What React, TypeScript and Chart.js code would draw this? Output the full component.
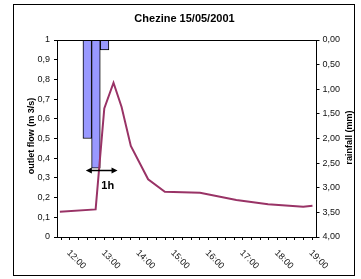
import { useEffect, useRef } from 'react';
import { Chart, registerables } from 'chart.js';

Chart.register(...registerables);

const chartTitle = 'Chezine 15/05/2001';
const flowAxisTitle = 'outlet flow (m 3/s)';
const rainAxisTitle = 'rainfall (mm)';

// outlet flow (m3/s)
const flowTimes = ['11:35', '12:37', '12:52', '13:08', '13:22', '13:38', '14:08', '14:37', '15:38', '16:41', '17:36', '18:37', '18:53'];
const flowValues = [0.128, 0.14, 0.653, 0.783, 0.66, 0.462, 0.293, 0.23, 0.225, 0.188, 0.166, 0.154, 0.159];

// rainfall (mm) per 15-minute interval, start of interval
const rainTimes = ['12:15', '12:30', '12:45'];
const rainValues = [2.0, 2.6, 0.2];

const hourLabels = ['12:00', '13:00', '14:00', '15:00', '16:00', '17:00', '18:00', '19:00'];

// "1h" annotation (data units)
const arrowFrom = '12:20';
const arrowTo = '13:15';
const arrowLevel = 0.34;
const arrowText = '1h';
const arrowTextTime = '12:58';
const arrowTextLevel = 0.259;

const toHours = (t: string) => {
  const [h, m] = t.split(':').map(Number);
  return h + m / 60;
};

const FONT = "'Liberation Sans', Arial, sans-serif";

const decorPlugin = {
  id: 'decor',
  afterDraw(chart: any) {
    const { ctx, chartArea, scales } = chart;
    const xs = scales.x;
    const ys = scales.flow;
    ctx.save();
    // outer frame
    ctx.strokeStyle = '#000';
    ctx.lineWidth = 1;
    ctx.strokeRect(13.5, 4.5, 341, 271);
    // top border of plot area
    ctx.beginPath();
    ctx.moveTo(chartArea.left, Math.round(chartArea.top) + 0.5);
    ctx.lineTo(chartArea.right, Math.round(chartArea.top) + 0.5);
    ctx.stroke();
    // title
    ctx.fillStyle = '#000';
    ctx.font = `bold 11px ${FONT}`;
    ctx.textAlign = 'center';
    ctx.textBaseline = 'middle';
    ctx.fillText(chartTitle, 184.5, 19);
    // x labels, rotated down-right
    ctx.font = `9px ${FONT}`;
    ctx.fillStyle = '#111';
    hourLabels.forEach((lab) => {
      const x = xs.getPixelForValue(toHours(lab)) + 2;
      const y = chartArea.bottom + 22.5;
      ctx.save();
      ctx.translate(x, y);
      ctx.rotate(Math.PI / 4);
      ctx.fillText(lab, 0, 0);
      ctx.restore();
    });
    // axis titles
    ctx.fillStyle = '#000';
    ctx.font = `bold 9px ${FONT}`;
    ctx.save();
    ctx.translate(31.5, 136);
    ctx.rotate(-Math.PI / 2);
    ctx.fillText(flowAxisTitle, 0, 0);
    ctx.restore();
    ctx.save();
    ctx.translate(349.5, 137.5);
    ctx.rotate(-Math.PI / 2);
    ctx.fillText(rainAxisTitle, 0, 0);
    ctx.restore();
    // double arrow
    const x1 = xs.getPixelForValue(toHours(arrowFrom));
    const x2 = xs.getPixelForValue(toHours(arrowTo));
    const ay = Math.round(ys.getPixelForValue(arrowLevel)) + 0.5;
    ctx.strokeStyle = '#000';
    ctx.lineWidth = 1.5;
    ctx.beginPath();
    ctx.moveTo(x1 + 3, ay);
    ctx.lineTo(x2 - 3, ay);
    ctx.stroke();
    ctx.beginPath();
    ctx.moveTo(x1, ay);
    ctx.lineTo(x1 + 6, ay - 3);
    ctx.lineTo(x1 + 6, ay + 3);
    ctx.closePath();
    ctx.moveTo(x2, ay);
    ctx.lineTo(x2 - 6, ay - 3);
    ctx.lineTo(x2 - 6, ay + 3);
    ctx.closePath();
    ctx.fill();
    ctx.font = `bold 11px ${FONT}`;
    ctx.fillText(arrowText, xs.getPixelForValue(toHours(arrowTextTime)), ys.getPixelForValue(arrowTextLevel));
    ctx.restore();
  },
};

export default function App() {
  const ref = useRef<HTMLCanvasElement>(null);
  useEffect(() => {
    if (!ref.current) return;
    const tickFont = { family: FONT, size: 9 };
    const chart = new Chart(ref.current, {
      type: 'bar',
      data: {
        datasets: [
          {
            type: 'line',
            label: 'outlet flow',
            data: flowTimes.map((t, i) => ({ x: toHours(t), y: flowValues[i] })),
            yAxisID: 'flow',
            borderColor: '#993366',
            borderWidth: 2,
            pointRadius: 0,
            tension: 0,
            order: 1,
          } as any,
          {
            type: 'bar',
            label: 'rainfall',
            data: rainTimes.map((t, i) => ({ x: toHours(t) + 0.125, y: rainValues[i] })),
            yAxisID: 'rain',
            backgroundColor: '#9999FF',
            borderColor: '#000',
            borderWidth: 1,
            barPercentage: 1,
            categoryPercentage: 1,
            order: 2,
          } as any,
        ],
      },
      options: {
        responsive: false,
        animation: false,
        devicePixelRatio: 1,
        layout: { padding: { top: 40, left: 0, right: 0, bottom: 0 } },
        plugins: { legend: { display: false }, tooltip: { enabled: false }, title: { display: false } },
        scales: {
          x: {
            type: 'linear',
            min: 11.5,
            max: 19,
            offset: false,
            ticks: { stepSize: 0.25, display: false },
            grid: { drawOnChartArea: false, drawTicks: true, tickLength: 3, color: '#000' },
            border: { display: true, color: '#000', width: 1 },
            afterFit: (s: any) => { s.height = 42; },
          },
          flow: {
            type: 'linear',
            position: 'left',
            min: 0,
            max: 1,
            ticks: {
              stepSize: 0.1,
              font: tickFont,
              color: '#111',
              padding: 4,
              callback: (v: any) => {
                const n = Number(v);
                return Math.abs(n - Math.round(n)) < 1e-9 ? String(Math.round(n)) : n.toFixed(1).replace('.', ',');
              },
            },
            grid: { drawOnChartArea: false, drawTicks: true, tickLength: 3, color: '#000' },
            border: { display: true, color: '#000', width: 1 },
            afterFit: (s: any) => { s.width = 57; },
          },
          rain: {
            type: 'linear',
            position: 'right',
            reverse: true,
            min: 0,
            max: 4,
            ticks: {
              stepSize: 0.5,
              font: tickFont,
              color: '#111',
              padding: 3,
              callback: (v: any) => Number(v).toFixed(2).replace('.', ','),
            },
            grid: { drawOnChartArea: false, drawTicks: true, tickLength: 3, color: '#000' },
            border: { display: true, color: '#000', width: 1 },
            afterFit: (s: any) => { s.width = 44.5; },
          },
        },
      } as any,
      plugins: [decorPlugin],
    });
    return () => chart.destroy();
  }, []);
  return (
    <div style={{ position: 'absolute', left: 0, top: 0, width: 361, height: 279, background: '#fff' }}>
      <canvas ref={ref} width={361} height={279} style={{ display: 'block' }} />
    </div>
  );
}
